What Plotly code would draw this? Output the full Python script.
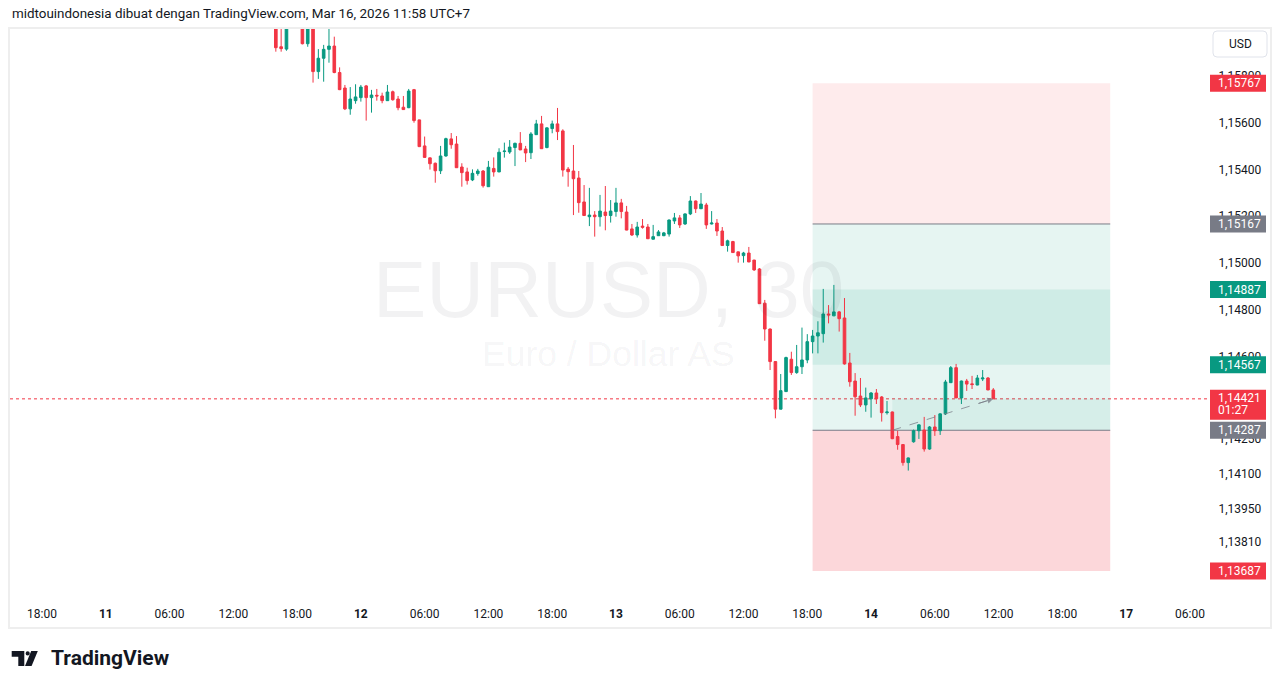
import plotly.graph_objects as go

# ---------------- data (EURUSD, 30 min bars; x = bar index, 0 = Mar 10 18:00 UTC+7) ----------------
bar_index = list(range(44, 180))

open_ = [1.16045, 1.15923, 1.15913, 1.16030, 1.16085, 1.16040, 1.15936, 1.16000, 1.15817, 1.15874,
         1.15912, 1.15926, 1.15813, 1.15747, 1.15658, 1.15693, 1.15706, 1.15756, 1.15706, 1.15716,
         1.15713, 1.15693, 1.15731, 1.15700, 1.15665, 1.15663, 1.15740, 1.15611, 1.15500, 1.15449,
         1.15426, 1.15394, 1.15457, 1.15530, 1.15508, 1.15410, 1.15389, 1.15355, 1.15382, 1.15393,
         1.15326, 1.15404, 1.15389, 1.15476, 1.15474, 1.15493, 1.15511, 1.15487, 1.15471, 1.15548,
         1.15594, 1.15493, 1.15574, 1.15594, 1.15564, 1.15401, 1.15393, 1.15363, 1.15261, 1.15198,
         1.15205, 1.15198, 1.15218, 1.15203, 1.15220, 1.15257, 1.15218, 1.15146, 1.15120, 1.15158,
         1.15154, 1.15102, 1.15117, 1.15117, 1.15124, 1.15180, 1.15193, 1.15167, 1.15210, 1.15265,
         1.15232, 1.15248, 1.15167, 1.15171, 1.15137, 1.15075, 1.15092, 1.15048, 1.15032, 1.15043,
         1.15013, 1.14975, 1.14829, 1.14719, 1.14580, 1.14377, 1.14452, 1.14590, 1.14533, 1.14558,
         1.14587, 1.14665, 1.14689, 1.14699, 1.14783, 1.14775, 1.14792, 1.14766, 1.14574, 1.14497,
         1.14433, 1.14395, 1.14421, 1.14446, 1.14429, 1.14362, 1.14365, 1.14260, 1.14226, 1.14149,
         1.14238, 1.14285, 1.14288, 1.14207, 1.14301, 1.14285, 1.14357, 1.14490, 1.14554, 1.14425,
         1.14497, 1.14485, 1.14480, 1.14506, 1.14510, 1.14459]
high_ = [1.16080, 1.16020, 1.16060, 1.16110, 1.16100, 1.16055, 1.16030, 1.16010, 1.15913, 1.15931,
         1.16006, 1.15966, 1.15835, 1.15760, 1.15751, 1.15763, 1.15760, 1.15760, 1.15739, 1.15743,
         1.15727, 1.15760, 1.15736, 1.15713, 1.15713, 1.15743, 1.15743, 1.15612, 1.15540, 1.15450,
         1.15429, 1.15500, 1.15535, 1.15555, 1.15542, 1.15426, 1.15407, 1.15400, 1.15402, 1.15397,
         1.15436, 1.15451, 1.15490, 1.15514, 1.15525, 1.15514, 1.15559, 1.15500, 1.15559, 1.15611,
         1.15628, 1.15579, 1.15608, 1.15662, 1.15571, 1.15410, 1.15504, 1.15393, 1.15333, 1.15321,
         1.15222, 1.15291, 1.15329, 1.15269, 1.15321, 1.15274, 1.15244, 1.15167, 1.15176, 1.15188,
         1.15167, 1.15163, 1.15141, 1.15133, 1.15186, 1.15214, 1.15205, 1.15212, 1.15286, 1.15267,
         1.15299, 1.15257, 1.15222, 1.15188, 1.15154, 1.15100, 1.15095, 1.15049, 1.15048, 1.15069,
         1.15014, 1.14979, 1.14843, 1.14721, 1.14582, 1.14527, 1.14601, 1.14622, 1.14651, 1.14725,
         1.14697, 1.14715, 1.14752, 1.14890, 1.14821, 1.14907, 1.14796, 1.14851, 1.14617, 1.14531,
         1.14510, 1.14469, 1.14450, 1.14463, 1.14433, 1.14412, 1.14367, 1.14285, 1.14228, 1.14171,
         1.14290, 1.14312, 1.14344, 1.14305, 1.14352, 1.14359, 1.14502, 1.14561, 1.14570, 1.14499,
         1.14506, 1.14519, 1.14523, 1.14544, 1.14514, 1.14467]
low_ = [1.15902, 1.15902, 1.15906, 1.16015, 1.16000, 1.15933, 1.15923, 1.15770, 1.15786, 1.15774,
        1.15855, 1.15810, 1.15738, 1.15653, 1.15633, 1.15680, 1.15689, 1.15608, 1.15642, 1.15693,
        1.15682, 1.15692, 1.15693, 1.15652, 1.15654, 1.15661, 1.15599, 1.15495, 1.15450, 1.15399,
        1.15343, 1.15380, 1.15454, 1.15488, 1.15406, 1.15326, 1.15335, 1.15350, 1.15373, 1.15322,
        1.15325, 1.15369, 1.15388, 1.15450, 1.15466, 1.15414, 1.15482, 1.15431, 1.15444, 1.15547,
        1.15487, 1.15490, 1.15554, 1.15525, 1.15369, 1.15326, 1.15205, 1.15215, 1.15201, 1.15158,
        1.15113, 1.15156, 1.15140, 1.15173, 1.15198, 1.15191, 1.15140, 1.15116, 1.15109, 1.15147,
        1.15103, 1.15101, 1.15116, 1.15115, 1.15113, 1.15167, 1.15150, 1.15163, 1.15205, 1.15214,
        1.15231, 1.15146, 1.15165, 1.15116, 1.15074, 1.15049, 1.15044, 1.15002, 1.15002, 1.15004,
        1.14967, 1.14826, 1.14669, 1.14544, 1.14338, 1.14376, 1.14450, 1.14523, 1.14528, 1.14527,
        1.14573, 1.14615, 1.14615, 1.14661, 1.14743, 1.14774, 1.14708, 1.14567, 1.14473, 1.14349,
        1.14386, 1.14366, 1.14341, 1.14399, 1.14324, 1.14354, 1.14249, 1.14204, 1.14136, 1.14115,
        1.14234, 1.14250, 1.14196, 1.14204, 1.14263, 1.14267, 1.14352, 1.14489, 1.14424, 1.14399,
        1.14455, 1.14463, 1.14479, 1.14497, 1.14458, 1.14420]
close_ = [1.15919, 1.15915, 1.16030, 1.16085, 1.16040, 1.15936, 1.16000, 1.15817, 1.15874, 1.15912,
          1.15926, 1.15813, 1.15740, 1.15658, 1.15700, 1.15709, 1.15751, 1.15706, 1.15717, 1.15713,
          1.15693, 1.15730, 1.15697, 1.15663, 1.15655, 1.15734, 1.15608, 1.15497, 1.15451, 1.15424,
          1.15394, 1.15457, 1.15531, 1.15505, 1.15407, 1.15386, 1.15352, 1.15383, 1.15393, 1.15330,
          1.15409, 1.15389, 1.15473, 1.15478, 1.15495, 1.15511, 1.15483, 1.15470, 1.15551, 1.15594,
          1.15488, 1.15577, 1.15594, 1.15561, 1.15397, 1.15390, 1.15360, 1.15258, 1.15203, 1.15205,
          1.15198, 1.15222, 1.15203, 1.15222, 1.15257, 1.15220, 1.15141, 1.15120, 1.15154, 1.15153,
          1.15104, 1.15113, 1.15133, 1.15129, 1.15184, 1.15193, 1.15163, 1.15210, 1.15265, 1.15232,
          1.15252, 1.15163, 1.15171, 1.15137, 1.15075, 1.15095, 1.15045, 1.15031, 1.15043, 1.15005,
          1.14971, 1.14827, 1.14719, 1.14580, 1.14377, 1.14456, 1.14597, 1.14533, 1.14558, 1.14587,
          1.14665, 1.14689, 1.14703, 1.14783, 1.14779, 1.14792, 1.14763, 1.14570, 1.14494, 1.14430,
          1.14395, 1.14425, 1.14446, 1.14421, 1.14362, 1.14365, 1.14251, 1.14226, 1.14149, 1.14169,
          1.14285, 1.14310, 1.14207, 1.14301, 1.14285, 1.14357, 1.14493, 1.14554, 1.14425, 1.14497,
          1.14484, 1.14482, 1.14510, 1.14510, 1.14459, 1.14421]

# time axis labels (bar index of each label)
x_tick_vals = [0, 12, 24, 36, 48, 60, 72, 84, 96, 108, 120, 132, 144, 156, 168, 180, 192, 204, 216]
x_tick_text = ["18:00", "<b>11</b>", "06:00", "12:00", "18:00", "<b>12</b>", "06:00", "12:00", "18:00",
               "<b>13</b>", "06:00", "12:00", "18:00", "<b>14</b>", "06:00", "12:00", "18:00",
               "<b>17</b>", "06:00"]

# price axis labels
y_tick_vals = [1.158, 1.156, 1.154, 1.152, 1.150, 1.148, 1.146, 1.1425, 1.141, 1.1395, 1.1381]

# position tools (short + long)
short_entry, short_stop, short_target = 1.15167, 1.15767, 1.14567
long_entry, long_stop, long_target = 1.14287, 1.13687, 1.14887
tool_start_bar, tool_end_bar = 145, 201
long_fill_bar = 160
countdown = "01:27"

# ---------------- styling ----------------
UP = "#089981"
DOWN = "#f23645"
GREY = "#787b86"
TXT = "#131722"
FONT = "Roboto"

W, H = 1281, 688
ML, MR, MT, MB = 10, 74, 28, 92
PW, PH = W - ML - MR, H - MT - MB
X_RANGE = [-6.02, 219.21]
Y_RANGE = [1.13580, 1.16003]


def fmt(p):
    return f"{p:.5f}".replace(".", ",")


def px(xp):
    return (xp - ML) / PW


def py(yp):
    return (H - MB - yp) / PH


y_tick_text = [fmt(v) for v in y_tick_vals]
last_price = close_[-1]

fig = go.Figure()
fig.add_trace(go.Candlestick(
    x=bar_index, open=open_, high=high_, low=low_, close=close_,
    increasing=dict(line=dict(color=UP, width=1), fillcolor=UP),
    decreasing=dict(line=dict(color=DOWN, width=1), fillcolor=DOWN),
    whiskerwidth=0, hoverinfo="skip", name="EURUSD",
))

shapes = []
# short position: stop zone and target zone
shapes.append(dict(type="rect", xref="x", yref="y", x0=tool_start_bar, x1=tool_end_bar,
                   y0=short_entry, y1=short_stop, fillcolor="rgba(242,54,69,0.1)",
                   line=dict(width=0), layer="below"))
shapes.append(dict(type="rect", xref="x", yref="y", x0=tool_start_bar, x1=tool_end_bar,
                   y0=short_target, y1=short_entry, fillcolor="rgba(8,153,129,0.1)",
                   line=dict(width=0), layer="below"))
# long position: target zone and stop zone
shapes.append(dict(type="rect", xref="x", yref="y", x0=tool_start_bar, x1=tool_end_bar,
                   y0=long_entry, y1=long_target, fillcolor="rgba(8,153,129,0.1)",
                   line=dict(width=0), layer="below"))
shapes.append(dict(type="rect", xref="x", yref="y", x0=tool_start_bar, x1=tool_end_bar,
                   y0=long_stop, y1=long_entry, fillcolor="rgba(242,54,69,0.2)",
                   line=dict(width=0), layer="below"))
# open P/L of long position
shapes.append(dict(type="rect", xref="x", yref="y", x0=long_fill_bar, x1=tool_end_bar,
                   y0=long_entry, y1=last_price, fillcolor="rgba(8,153,129,0.07)",
                   line=dict(width=0), layer="below"))
# entry lines
for e in (short_entry, long_entry):
    shapes.append(dict(type="line", xref="x", yref="y", x0=tool_start_bar, x1=tool_end_bar,
                       y0=e, y1=e, line=dict(color=GREY, width=1), layer="below"))
# dashed path entry -> current
shapes.append(dict(type="line", xref="x", yref="y", x0=long_fill_bar, y0=long_entry,
                   x1=bar_index[-1], y1=last_price,
                   line=dict(color="rgba(120,123,134,0.75)", width=1, dash="dash"), layer="above"))
# last price dotted line
shapes.append(dict(type="line", xref="paper", yref="y", x0=0, x1=1, y0=last_price, y1=last_price,
                   line=dict(color=DOWN, width=1, dash="dot"), layer="below"))
# widget frame
shapes.append(dict(type="rect", xref="paper", yref="paper", x0=px(9), x1=px(1271), y0=py(628), y1=py(28),
                   line=dict(color="#eeeeee", width=2), fillcolor="rgba(0,0,0,0)", layer="above"))
# USD box
r = 4
x0b, x1b, y0b, y1b = 1213, 1267, 31, 57
path = (f"M {px(x0b + r)},{py(y0b)} L {px(x1b - r)},{py(y0b)} Q {px(x1b)},{py(y0b)} {px(x1b)},{py(y0b + r)} "
        f"L {px(x1b)},{py(y1b - r)} Q {px(x1b)},{py(y1b)} {px(x1b - r)},{py(y1b)} "
        f"L {px(x0b + r)},{py(y1b)} Q {px(x0b)},{py(y1b)} {px(x0b)},{py(y1b - r)} "
        f"L {px(x0b)},{py(y0b + r)} Q {px(x0b)},{py(y0b)} {px(x0b + r)},{py(y0b)} Z")
shapes.append(dict(type="path", xref="paper", yref="paper", path=path,
                   line=dict(color="#e0e3eb", width=1), fillcolor="white"))
# TradingView logo
logo_t = (f"M {px(11.7)},{py(651)} L {px(24.3)},{py(651)} L {px(24.3)},{py(666)} L {px(18.3)},{py(666)} "
          f"L {px(18.3)},{py(656.7)} L {px(11.7)},{py(656.7)} Z")
shapes.append(dict(type="path", xref="paper", yref="paper", path=logo_t, fillcolor=TXT, line=dict(width=0)))
shapes.append(dict(type="circle", xref="paper", yref="paper", x0=px(25.6), x1=px(29.8), y0=py(651.3), y1=py(655.5),
                   fillcolor=TXT, line=dict(width=0)))
logo_s = (f"M {px(31.2)},{py(651)} L {px(37.8)},{py(651)} L {px(31.6)},{py(666)} L {px(25.0)},{py(666)} Z")
shapes.append(dict(type="path", xref="paper", yref="paper", path=logo_s, fillcolor=TXT, line=dict(width=0)))

# price badges on the price scale (pixel-sized rectangles anchored at the price)
badges = [(short_stop, DOWN), (short_entry, GREY), (long_target, UP), (short_target, UP),
          (long_stop, DOWN), (long_entry, GREY)]
for p, c in badges:
    shapes.append(dict(type="rect", xref="paper", yref="y", xsizemode="pixel", ysizemode="pixel",
                       xanchor=1, yanchor=p, x0=3, x1=59, y0=-8.5, y1=8.5,
                       fillcolor=c, line=dict(width=0), layer="above"))
shapes.append(dict(type="rect", xref="paper", yref="y", xsizemode="pixel", ysizemode="pixel",
                   xanchor=1, yanchor=last_price, x0=3, x1=59, y0=-21, y1=9,
                   fillcolor=DOWN, line=dict(width=0), layer="above"))

ann = []
# watermark
ann.append(dict(xref="paper", yref="paper", x=0.5, y=py(289), text="EURUSD, 30", showarrow=False,
                font=dict(family="Liberation Sans", size=80, color="rgba(19,23,34,0.055)"),
                xanchor="center", yanchor="middle"))
ann.append(dict(xref="paper", yref="paper", x=0.5, y=py(354), text="Euro / Dollar AS", showarrow=False,
                font=dict(family="Liberation Sans", size=35.5, color="rgba(19,23,34,0.055)"),
                xanchor="center", yanchor="middle"))
# header / footer
ann.append(dict(xref="paper", yref="paper", x=px(10), y=py(13), xanchor="left", yanchor="middle",
                text="midtouindonesia dibuat dengan TradingView.com, Mar 16, 2026 11:58 UTC+7",
                showarrow=False, font=dict(family=FONT, size=13.4, color=TXT)))
ann.append(dict(xref="paper", yref="paper", x=px(49), y=py(658), xanchor="left", yanchor="middle",
                text="<b>TradingView</b>", showarrow=False, font=dict(family="Roboto", size=21, color=TXT)))
ann.append(dict(xref="paper", yref="paper", x=px(1240), y=py(44), xanchor="center", yanchor="middle",
                text="USD", showarrow=False, font=dict(family=FONT, size=12, color=TXT)))
# arrow head of the dashed path
ann.append(dict(xref="x", yref="y", axref="x", ayref="y", x=bar_index[-1], y=last_price,
                ax=bar_index[-1] - 3, ay=last_price - (last_price - long_entry) * 3 / (bar_index[-1] - long_fill_bar),
                text="", showarrow=True, arrowhead=2, arrowsize=1.2, arrowwidth=1,
                arrowcolor="rgba(120,123,134,0.75)"))
# badge texts
for p, c in badges:
    ann.append(dict(xref="paper", yref="y", x=1, y=p, xanchor="left", yanchor="middle", xshift=9,
                    text=fmt(p), showarrow=False, font=dict(family=FONT, size=12, color="white")))
ann.append(dict(xref="paper", yref="y", x=1, y=last_price, xanchor="left", yanchor="middle", xshift=9, yshift=1,
                text=fmt(last_price), showarrow=False, font=dict(family=FONT, size=12, color="white")))
ann.append(dict(xref="paper", yref="y", x=1, y=last_price, xanchor="left", yanchor="middle", xshift=9, yshift=-11,
                text=countdown, showarrow=False, font=dict(family=FONT, size=12, color="white")))

fig.update_layout(
    width=W, height=H, margin=dict(l=ML, r=MR, t=MT, b=MB),
    paper_bgcolor="white", plot_bgcolor="white", showlegend=False, hovermode=False,
    shapes=shapes, annotations=ann,
    xaxis=dict(range=X_RANGE, rangeslider=dict(visible=False), showgrid=False, zeroline=False,
               showline=False, tickmode="array", tickvals=x_tick_vals, ticktext=x_tick_text,
               ticks="outside", ticklen=7, tickcolor="rgba(0,0,0,0)",
               tickfont=dict(family=FONT, size=12, color=TXT)),
    yaxis=dict(range=Y_RANGE, side="right", showgrid=False, zeroline=False, showline=False,
               tickmode="array", tickvals=y_tick_vals, ticktext=y_tick_text,
               ticks="outside", ticklen=8, tickcolor="rgba(0,0,0,0)",
               tickfont=dict(family=FONT, size=12, color=TXT)),
)

fig.write_html("out.html", include_plotlyjs=True, config={"displayModeBar": False},
               post_script="document.body.style.margin='0';document.body.style.overflow='hidden';")
